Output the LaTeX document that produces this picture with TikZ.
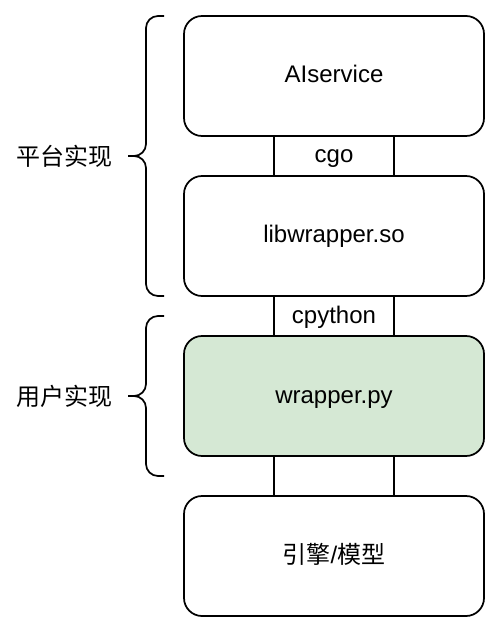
\documentclass[tikz,border=0pt]{standalone}
\usepackage{fontspec}
\setmainfont{Liberation Sans}
\newfontfamily\cjk{Noto Sans CJK SC}
\usetikzlibrary{positioning}
\definecolor{userfill}{HTML}{D5E8D4}
\tikzset{
  layer/.style={draw, line width=1.3pt, rounded corners=13.5pt, outer sep=0pt,
    inner sep=0pt, minimum width=225pt, minimum height=90pt,
    text height=13pt, text depth=2.5pt, font=\fontsize{18}{22}\selectfont},
  glue/.style={draw, line width=1.3pt, outer sep=0pt, inner sep=0pt,
    minimum width=90pt, minimum height=30pt,
    text height=13pt, text depth=2.5pt, font=\fontsize{18}{22}\selectfont},
  curly/.style={line width=1.3pt, rounded corners=9pt},
  side/.style={anchor=east, inner sep=0pt, font=\cjk\fontsize{18}{22}\selectfont}
}
\begin{document}
\begin{tikzpicture}[x=0.75pt,y=-0.75pt]
\useasboundingbox (0,0) rectangle (501,634);
\node[layer] (svc) at (334,76) {AIservice};
\node[glue, below=0pt of svc] (cgo) {cgo};
\node[layer, below=0pt of cgo] (lib) {libwrapper.so};
\node[glue, below=0pt of lib] (cpy) {cpython};
\node[layer, fill=userfill, below=0pt of cpy] (py) {wrapper.py};
\node[glue, below=0pt of py] (call) {};
\node[layer, below=0pt of call] (engine) {{\cjk 引擎}/{\cjk 模型}};
% braces
\draw[curly] (164,16)--(146,16)--(146,156)--(128,156);
\draw[curly] (128,156)--(146,156)--(146,296)--(164,296);
\draw[curly] (164,316)--(146,316)--(146,396)--(128,396);
\draw[curly] (128,396)--(146,396)--(146,476)--(164,476);
\node[side] (plat) at (113,156) {平台实现};
\node[side] (user) at (113,396) {用户实现};
\end{tikzpicture}
\end{document}
